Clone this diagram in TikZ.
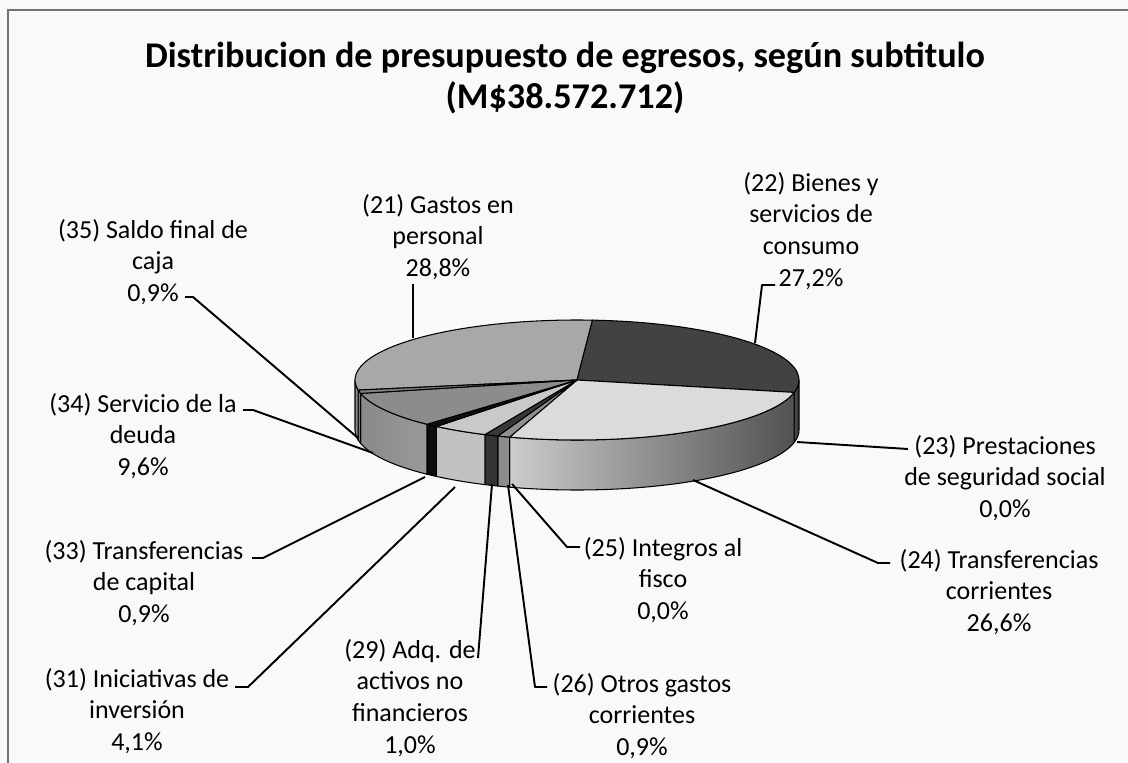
\documentclass[tikz,border=0pt]{standalone}
\usepackage{fontspec}
\setmainfont{Carlito}
\usetikzlibrary{calc}

\definecolor{paper}{gray}{0.975}
\definecolor{frame}{gray}{0.45}
\definecolor{top21}{gray}{0.66}
\definecolor{top22}{gray}{0.26}
\definecolor{top24}{gray}{0.86}
\definecolor{top26}{gray}{0.56}
\definecolor{top29}{gray}{0.22}
\definecolor{top31}{gray}{0.79}
\definecolor{top33}{gray}{0.06}
\definecolor{top34}{gray}{0.55}
\definecolor{top35}{gray}{0.50}

\begin{document}
\begin{tikzpicture}[x=0.02cm, y=-0.02cm,
    lbl/.style={align=center, inner sep=0pt, font=\fontsize{14.8}{18.1}\selectfont},
    ldr/.style={line width=1.1pt, line join=round},
    edge/.style={draw=black, line width=0.6pt, line join=round}]
    \useasboundingbox (0,0) rectangle (1128,763);
    \fill[paper] (0,0) rectangle (1128,763);
    \draw[frame, line width=1.2pt] (8,763) -- (8,10) -- (1128,10);

    \node (title) at (565,78) [align=center, inner sep=0pt, font=\bfseries\fontsize{20.6}{23.2}\selectfont]
        {Distribucion de presupuesto de egresos, según subtitulo\\(M\$38.572.712)};

    % pie, centre and sides
    \coordinate (O) at (577,380);
    \shadedraw[edge, left color=black!70, right color=black!80] ($(O)+(0:222 and 60)$) arc[start angle=0, end angle=11.92, x radius=222, y radius=60] -- ++(0,50) arc[start angle=11.92, end angle=0, x radius=222, y radius=60] -- cycle;
    \shadedraw[edge, left color=black!20, right color=black!68] ($(O)+(11.92:222 and 60)$) arc[start angle=11.92, end angle=107.68, x radius=222, y radius=60] -- ++(0,50) arc[start angle=107.68, end angle=11.92, x radius=222, y radius=60] -- cycle;
    \filldraw[edge, fill=black!45] ($(O)+(107.68:222 and 60)$) arc[start angle=107.68, end angle=110.92, x radius=222, y radius=60] -- ++(0,50) arc[start angle=110.92, end angle=107.68, x radius=222, y radius=60] -- cycle;
    \filldraw[edge, fill=black!80] ($(O)+(110.92:222 and 60)$) arc[start angle=110.92, end angle=114.52, x radius=222, y radius=60] -- ++(0,50) arc[start angle=114.52, end angle=110.92, x radius=222, y radius=60] -- cycle;
    \filldraw[edge, fill=black!24] ($(O)+(114.52:222 and 60)$) arc[start angle=114.52, end angle=129.28, x radius=222, y radius=60] -- ++(0,50) arc[start angle=129.28, end angle=114.52, x radius=222, y radius=60] -- cycle;
    \filldraw[edge, fill=black!95] ($(O)+(129.28:222 and 60)$) arc[start angle=129.28, end angle=132.52, x radius=222, y radius=60] -- ++(0,50) arc[start angle=132.52, end angle=129.28, x radius=222, y radius=60] -- cycle;
    \shadedraw[edge, left color=black!46, right color=black!40] ($(O)+(132.52:222 and 60)$) arc[start angle=132.52, end angle=167.08, x radius=222, y radius=60] -- ++(0,50) arc[start angle=167.08, end angle=132.52, x radius=222, y radius=60] -- cycle;
    \filldraw[edge, fill=black!50] ($(O)+(167.08:222 and 60)$) arc[start angle=167.08, end angle=170.32, x radius=222, y radius=60] -- ++(0,50) arc[start angle=170.32, end angle=167.08, x radius=222, y radius=60] -- cycle;
    \filldraw[edge, fill=black!45] ($(O)+(170.32:222 and 60)$) arc[start angle=170.32, end angle=180, x radius=222, y radius=60] -- ++(0,50) arc[start angle=180, end angle=170.32, x radius=222, y radius=60] -- cycle;

    % pie, top faces
    \filldraw[edge, fill=top21] (O) -- ++(170.32:222 and 60) arc[start angle=170.32, end angle=274, x radius=222, y radius=60] -- cycle;
    \filldraw[edge, fill=top22] (O) -- ++(-86:222 and 60) arc[start angle=-86, end angle=11.92, x radius=222, y radius=60] -- cycle;
    \filldraw[edge, fill=top24] (O) -- ++(11.92:222 and 60) arc[start angle=11.92, end angle=107.68, x radius=222, y radius=60] -- cycle;
    \filldraw[edge, fill=top26] (O) -- ++(107.68:222 and 60) arc[start angle=107.68, end angle=110.92, x radius=222, y radius=60] -- cycle;
    \filldraw[edge, fill=top29] (O) -- ++(110.92:222 and 60) arc[start angle=110.92, end angle=114.52, x radius=222, y radius=60] -- cycle;
    \filldraw[edge, fill=top31] (O) -- ++(114.52:222 and 60) arc[start angle=114.52, end angle=129.28, x radius=222, y radius=60] -- cycle;
    \filldraw[edge, fill=top33] (O) -- ++(129.28:222 and 60) arc[start angle=129.28, end angle=132.52, x radius=222, y radius=60] -- cycle;
    \filldraw[edge, fill=top34] (O) -- ++(132.52:222 and 60) arc[start angle=132.52, end angle=167.08, x radius=222, y radius=60] -- cycle;
    \filldraw[edge, fill=top35] (O) -- ++(167.08:222 and 60) arc[start angle=167.08, end angle=170.32, x radius=222, y radius=60] -- cycle;

    % labels
    \node (n21) at (438,237) [lbl] {(21) Gastos en\\personal\\28,8\%};
    \node (n22) at (811,231) [lbl] {(22) Bienes y\\servicios de\\consumo\\27,2\%};
    \node (n23) at (1005,478) [lbl] {(23) Prestaciones\\de seguridad social\\0,0\%};
    \node (n24) at (999,592) [lbl] {(24) Transferencias\\corrientes\\26,6\%};
    \node (n25) at (663,580) [lbl] {(25) Integros al\\fisco\\0,0\%};
    \node (n26) at (642,716) [lbl] {(26) Otros gastos\\corrientes\\0,9\%};
    \node (n29) at (410,698) [lbl] {(29) Adq. de\\activos no\\financieros\\1,0\%};
    \node (n31) at (137,711) [lbl] {(31) Iniciativas de\\inversión\\4,1\%};
    \node (n33) at (144,583) [lbl] {(33) Transferencias\\de capital\\0,9\%};
    \node (n34) at (143,436) [lbl] {(34) Servicio de la\\deuda\\9,6\%};
    \node (n35) at (153,262) [lbl] {(35) Saldo final de\\caja\\0,9\%};

    % leader lines
    \coordinate (p21) at (413,338);
    \coordinate (p22) at (755,343);
    \coordinate (k22) at (762,285);
    \coordinate (t22) at (775,285);
    \coordinate (p23) at (797,442);
    \coordinate (t23) at (908,449);
    \coordinate (p24) at (693,480);
    \coordinate (k24) at (878,563);
    \coordinate (t24) at (890,563);
    \coordinate (p25) at (512,484);
    \coordinate (k25) at (567,547);
    \coordinate (t25) at (580,547);
    \coordinate (p26) at (508,485);
    \coordinate (k26) at (535,687);
    \coordinate (t26) at (547,687);
    \coordinate (p29) at (492,484);
    \coordinate (t29) at (478,658);
    \coordinate (p31) at (455,487);
    \coordinate (k31) at (248,687);
    \coordinate (t31) at (235,687);
    \coordinate (p33) at (425,477);
    \coordinate (k33) at (263,558);
    \coordinate (t33) at (252,558);
    \coordinate (p34) at (373,453);
    \coordinate (k34) at (253,410);
    \coordinate (t34) at (243,410);
    \coordinate (p35) at (358,438);
    \coordinate (k35) at (193,297);
    \coordinate (t35) at (185,297);

    \draw[ldr] (p21) -- ($(p21 |- n21.south)+(0,4)$);
    \draw[ldr] (p22) -- (k22) -- (t22);
    \draw[ldr] (p23) -- (t23);
    \draw[ldr] (p24) -- (k24) -- (t24);
    \draw[ldr] (p25) -- (k25) -- (t25);
    \draw[ldr] (p26) -- (k26) -- (t26);
    \draw[ldr] (p29) -- (t29);
    \draw[ldr] (p31) -- (k31) -- (t31);
    \draw[ldr] (p33) -- (k33) -- (t33);
    \draw[ldr] (p34) -- (k34) -- (t34);
    \draw[ldr] (p35) -- (k35) -- (t35);
\end{tikzpicture}
\end{document}
